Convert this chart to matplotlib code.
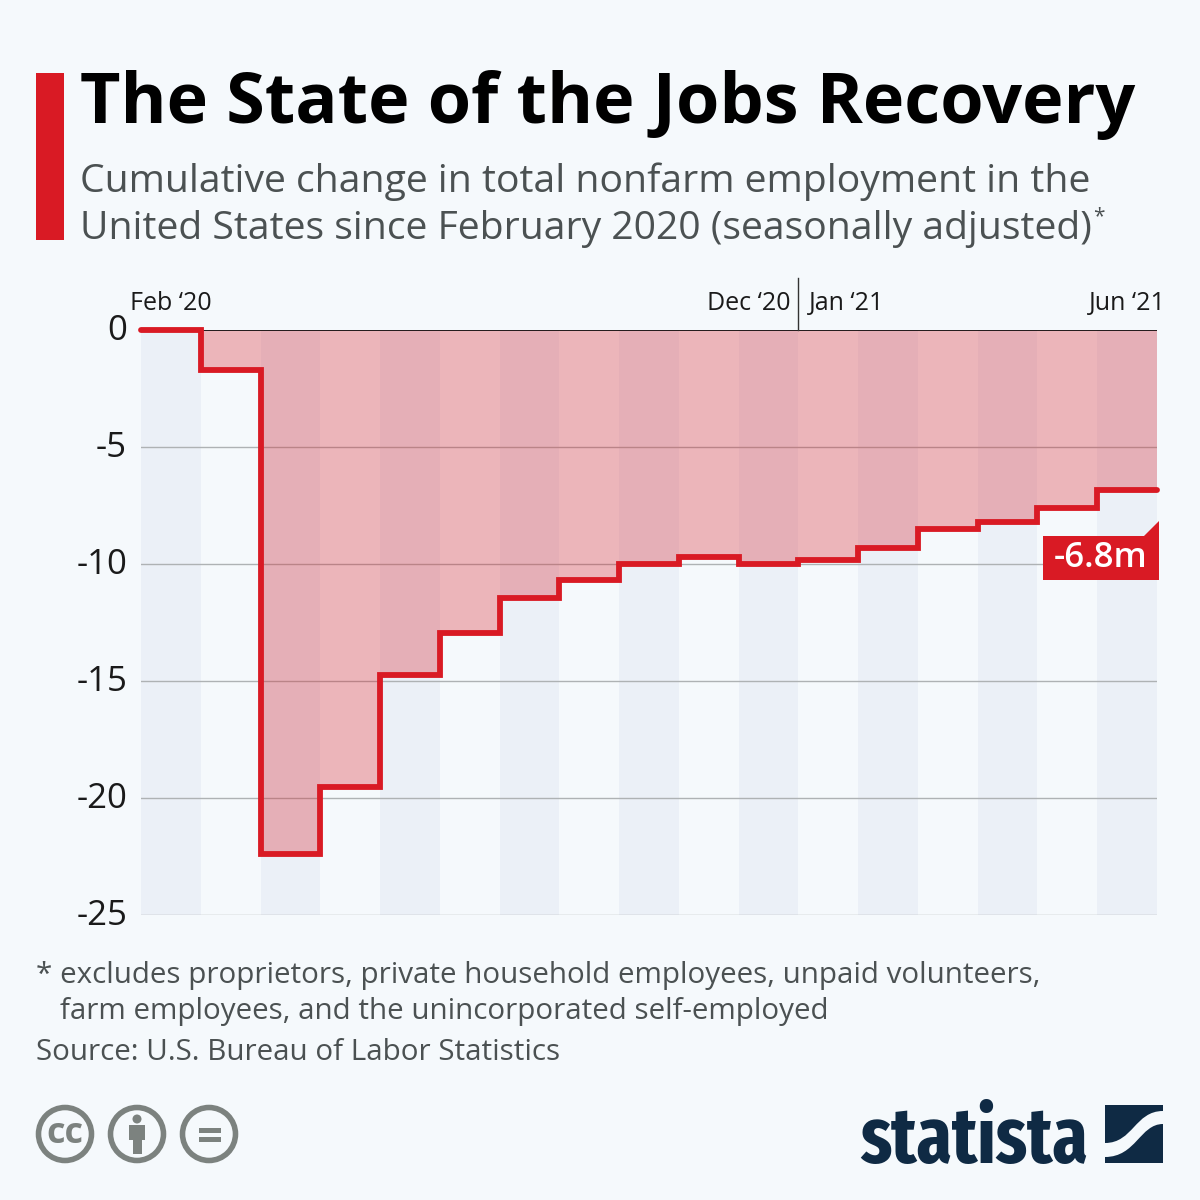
import matplotlib
matplotlib.use('Agg')
import matplotlib.pyplot as plt
from matplotlib.patches import Circle, Polygon, Rectangle, PathPatch
from matplotlib.path import Path
from matplotlib.transforms import ScaledTranslation

# chart values (million jobs, cumulative change since Feb 2020)
months = ['Feb 20', 'Mar 20', 'Apr 20', 'May 20', 'Jun 20', 'Jul 20', 'Aug 20', 'Sep 20', 'Oct 20',
          'Nov 20', 'Dec 20', 'Jan 21', 'Feb 21', 'Mar 21', 'Apr 21', 'May 21', 'Jun 21']
change = [0, -1.7, -22.4, -19.55, -14.75, -12.95, -11.45, -10.7, -10.0,
          -9.7, -10.0, -9.85, -9.3, -8.5, -8.2, -7.6, -6.85]
y_ticks = [0, -5, -10, -15, -20, -25]

title = 'The State of the Jobs Recovery'
subtitle = ['Cumulative change in total nonfarm employment in the',
            'United States since February 2020 (seasonally adjusted)']
note = ['* excludes proprietors, private household employees, unpaid volunteers,',
        'farm employees, and the unincorporated self-employed']
source = 'Source: U.S. Bureau of Labor Statistics'

BG = '#f5f9fc'
RED = '#d91a24'
BAND = '#ebf0f7'
GREY = '#7c827f'
NAVY = '#0f2a44'
TEXT = '#4b5152'

plt.rcParams['font.family'] = ['Open Sans', 'DejaVu Sans']

fig = plt.figure(figsize=(12, 12), dpi=100, facecolor=BG)

# 1. the chart itself
ax = fig.add_axes([141 / 1200, 1 - 915 / 1200, 1016 / 1200, 585 / 1200], facecolor='none')
edges = list(range(len(months) + 1))
ax.set_xlim(0, len(months))
ax.set_ylim(-25, 0)

for i in range(0, len(months), 2):
    ax.axvspan(edges[i], edges[i + 1], color=BAND, lw=0, zorder=1)
for t in y_ticks[1:]:
    ax.axhline(t, color='#aeb2b4', lw=1, zorder=2)
ax.stairs(change, edges, baseline=0, fill=True, color=RED, alpha=0.3, lw=0, zorder=3)
ax.plot([1, len(months)], [0, 0], color='black', lw=1.2, zorder=4)
ax.stairs(change, edges, baseline=None, color=RED, lw=4.2, zorder=5,
          joinstyle='miter', capstyle='round', clip_on=False)

for s in ax.spines.values():
    s.set_visible(False)
ax.set_xticks([])
ax.set_yticks(y_ticks)
ax.set_yticklabels([str(t) for t in y_ticks], fontsize=25, color='#1a1a1a')
ax.tick_params(axis='y', length=0, pad=10)
for lab in ax.get_yticklabels():
    lab.set_transform(lab.get_transform() + ScaledTranslation(0, 2.5 / 72, fig.dpi_scale_trans))

# 2. overlay in pixel coordinates for everything around the chart
ov = fig.add_axes([0, 0, 1, 1], facecolor='none')
ov.set_xlim(0, 1200)
ov.set_ylim(1200, 0)
ov.axis('off')

ov.add_patch(Rectangle((36, 73), 28, 167, color=RED, lw=0))
ov.text(80, 123, title, fontsize=50.5, fontweight='bold', color='black', va='baseline')
ov.text(80, 192, subtitle[0], fontsize=28.2, color=TEXT, va='baseline')
ov.text(80, 239, subtitle[1], fontsize=28.2, color=TEXT, va='baseline')
ov.text(1093, 222, '*', fontsize=15, color=TEXT, va='baseline')

# month labels above the zero line
ov.plot([798, 798], [278, 330], color='#333333', lw=1)
ov.text(130.5, 303.5, 'Feb ‘20', fontsize=18, color='#1a1a1a', va='center')
ov.text(790.5, 303.5, 'Dec ‘20', fontsize=18, color='#1a1a1a', va='center', ha='right')
ov.text(809, 303.5, 'Jan ‘21', fontsize=18, color='#1a1a1a', va='center')
ov.text(1166, 303.5, 'Jun ‘21', fontsize=18, color='#1a1a1a', va='center', ha='right')

# end label
ov.add_patch(Polygon([(1043, 536), (1144, 536), (1159, 521), (1159, 580), (1043, 580)], color=RED, lw=0, zorder=6))
ov.text(1101, 558, '-6.8m', fontsize=25, fontweight='semibold', color='white', ha='center', va='center', zorder=7)

# footer
ov.text(36, 975, note[0], fontsize=21.3, color=TEXT, va='center')
ov.text(60, 1011, note[1], fontsize=21.3, color=TEXT, va='center')
ov.text(36, 1053, source, fontsize=21.3, color=TEXT, va='center')

# licence icons
for cx in [65, 137, 209]:
    ov.add_patch(Circle((cx, 1134), 26.5, fill=False, ec=GREY, lw=4))
ov.text(65, 1134, 'cc', fontsize=26, fontweight='bold', color=GREY, ha='center', va='center')
ov.add_patch(Circle((137, 1119), 4.5, color=GREY, lw=0))
ov.add_patch(Rectangle((129, 1125), 16, 15, color=GREY, lw=0))
ov.add_patch(Rectangle((133, 1125), 9, 29, color=GREY, lw=0))
ov.add_patch(Rectangle((199, 1128), 22, 5, color=GREY, lw=0))
ov.add_patch(Rectangle((199, 1137), 22, 5, color=GREY, lw=0))

# logo
ov.text(1088, 1163, 'statista', fontsize=56, fontweight='bold', color=NAVY, ha='right', va='baseline',
        family=['Fira Sans Extra Condensed', 'Roboto', 'DejaVu Sans'])
top_piece = Path([(1105, 1105), (1163, 1105), (1163, 1111), (1135, 1111), (1133, 1143), (1105, 1143), (1105, 1105)],
                 [Path.MOVETO, Path.LINETO, Path.LINETO, Path.CURVE4, Path.CURVE4, Path.CURVE4, Path.CLOSEPOLY])
low_piece = Path([(1163, 1163), (1163, 1124), (1140, 1124), (1136, 1157), (1105, 1157), (1105, 1163), (1163, 1163)],
                 [Path.MOVETO, Path.LINETO, Path.CURVE4, Path.CURVE4, Path.CURVE4, Path.LINETO, Path.CLOSEPOLY])
ov.add_patch(PathPatch(top_piece, fc=NAVY, lw=0))
ov.add_patch(PathPatch(low_piece, fc=NAVY, lw=0))

fig.savefig('out.png', dpi=100, facecolor=BG)
